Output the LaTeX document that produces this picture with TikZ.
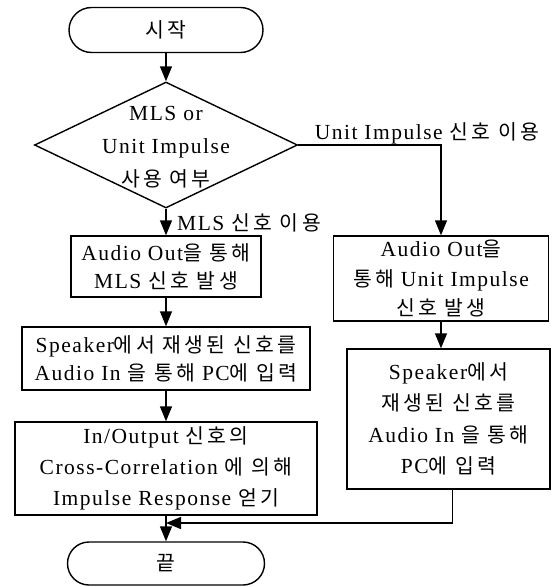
\documentclass[tikz,border=0pt]{standalone}
\usepackage{fontspec}
\setmainfont[LetterSpace=7]{Liberation Serif}
\newfontfamily\korfont[Scale=0.95,LetterSpace=16]{Noto Sans CJK KR}
\newcommand\kor[1]{{\korfont #1}}
\usetikzlibrary{arrows.meta,shapes.geometric,shapes.misc}
\begin{document}
\begin{tikzpicture}[x=1pt,y=-1pt,
  every node/.style={font=\fontsize{21.5}{30}\selectfont},
  box/.style={draw,line width=1.4pt,rectangle,inner sep=0pt,align=center},
  term/.style={draw,line width=1.4pt,rounded rectangle,inner sep=0pt},
  arr/.style={line width=1.4pt,-{Triangle[length=15pt,width=12pt]}},
  lab/.style={inner sep=0pt}]
\useasboundingbox (0,0) rectangle (556,587);

\node[term,minimum width=194pt,minimum height=45pt] (start) at (166,30) {\kor{시작}};
\node[draw,diamond,line width=1.4pt,minimum width=263pt,minimum height=126pt,inner sep=0pt] (dec) at (166,145) {};
\node[align=center,inner sep=0pt,font=\fontsize{21.5}{33}\selectfont] (dectext) at (166,147) {MLS or\\Unit Impulse\\\kor{사용 여부}};
\node[box,minimum width=190pt,minimum height=61pt,font=\fontsize{21.5}{28}\selectfont] (a) at (166,266.5) {Audio Out\kor{을 통해}\\MLS \kor{신호 발생}};
\node[box,minimum width=288pt,minimum height=63pt,font=\fontsize{21.5}{28}\selectfont] (b) at (166,358.5) {Speaker\kor{에서 재생된 신호를}\\Audio In \kor{을 통해} PC\kor{에 입력}};
\node[box,minimum width=302pt,minimum height=93pt,font=\fontsize{21.5}{31}\selectfont] (c) at (166,468.5) {In/Output \kor{신호의}\\Cross-Correlation \kor{에 의해}\\Impulse Response \kor{얻기}};
\node[term,minimum width=197pt,minimum height=43pt] (end) at (166,563.5) {\kor{끝}};

\node[box,minimum width=215pt,minimum height=85pt,font=\fontsize{21.5}{29.5}\selectfont] (r1) at (441,278.5) {Audio Out\kor{을}\\\kor{통해} Unit Impulse\\\kor{신호 발생}};
\node[box,minimum width=203pt,minimum height=140pt,font=\fontsize{21.5}{31.5}\selectfont] (r2) at (448.5,419) {Speaker\kor{에서}\\\kor{재생된 신호를}\\Audio In \kor{을 통해}\\PC\kor{에 입력}};

\node[lab] (uilab) at (427,133) {Unit Impulse \kor{신호 이용}};
\node[lab,anchor=west] (mlslab) at (177,223) {MLS \kor{신호 이용}};
\coordinate (m) at (166,523);

\draw[arr] (start.south) -- (dec.north);
\draw[arr] (dec.south) -- (a.north);
\draw[arr] (a.south) -- (b.north);
\draw[arr] (b.south) -- (c.north);
\draw[arr] (c.south) -- (end.north);
\draw[arr] (dec.east) -| (r1.north);
\draw[arr] (r1.south) -- (r1.south |- r2.north);
\draw[arr] ([xshift=4pt]r2.south) |- (m);
\end{tikzpicture}
\end{document}
